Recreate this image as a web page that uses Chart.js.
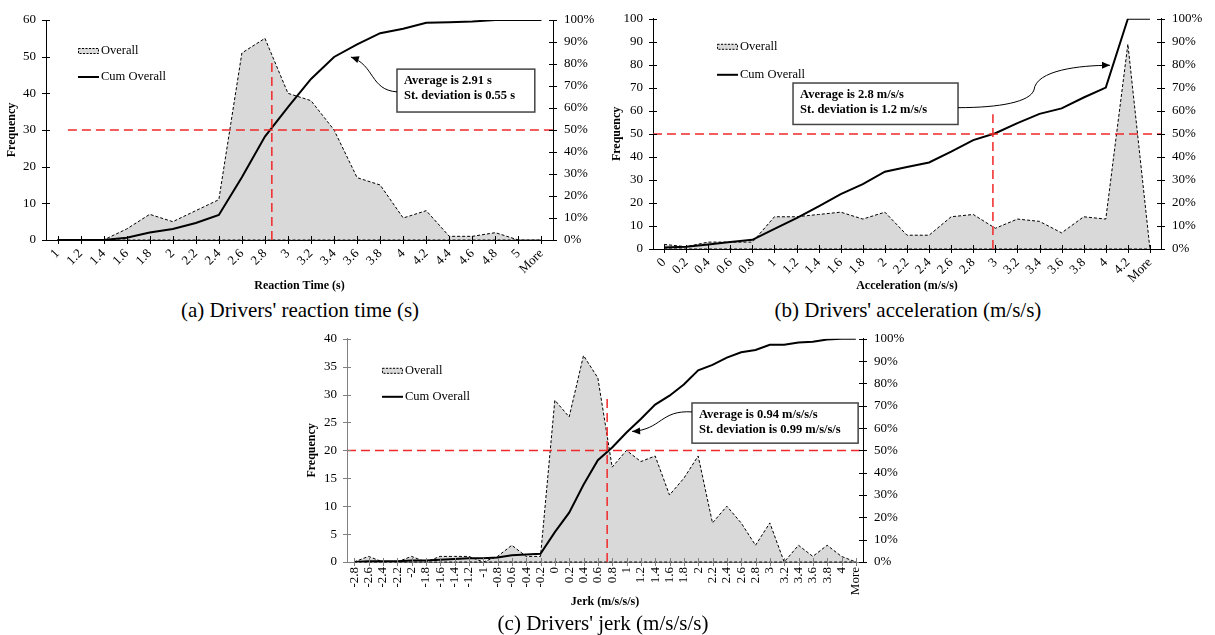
<!DOCTYPE html>
<html>
<head>
<meta charset="utf-8">
<script src="https://cdn.jsdelivr.net/npm/chart.js@4.4.1/dist/chart.umd.min.js"></script>
<style>
  body { margin: 0; background: #fff; width: 1215px; height: 635px; position: relative; overflow: hidden;
         font-family: "Liberation Serif", "Times New Roman", serif; }
  .box { position: absolute; }
  .cap { position: absolute; width: 400px; text-align: center; font-size: 21px; line-height: 24px; white-space: nowrap; }
</style>
</head>
<body>
<div class="box" style="left:0;top:0;width:605px;height:297px"><canvas id="rtChart"></canvas></div>
<div class="cap" style="left:100px;top:298px">(a) Drivers' reaction time (s)</div>

<div class="box" style="left:605px;top:0;width:610px;height:297px"><canvas id="accChart"></canvas></div>
<div class="cap" style="left:708px;top:298px">(b) Drivers' acceleration (m/s/s)</div>

<div class="box" style="left:300px;top:320px;width:620px;height:293px"><canvas id="jerkChart"></canvas></div>
<div class="cap" style="left:403px;top:611px">(c) Drivers' jerk (m/s/s/s)</div>

<script>
// (a) reaction time
const rtLabels = ['1', '1.2', '1.4', '1.6', '1.8', '2', '2.2', '2.4', '2.6', '2.8', '3', '3.2', '3.4', '3.6', '3.8', '4', '4.2', '4.4', '4.6', '4.8', '5', 'More'];
const rtFreq = [0, 0, 0, 3, 7, 5, 8, 11, 51, 55, 40, 38, 30, 17, 15, 6, 8, 1, 1, 2, 0, 0];
const rtCum = [0, 0, 0, 1.0, 3.4, 5.0, 7.7, 11.4, 28.5, 47.0, 60.4, 73.2, 83.2, 88.9, 94.0, 96.0, 98.7, 99.0, 99.3, 100, 100, 100];

// (b) acceleration
const accLabels = ['0', '0.2', '0.4', '0.6', '0.8', '1', '1.2', '1.4', '1.6', '1.8', '2', '2.2', '2.4', '2.6', '2.8', '3', '3.2', '3.4', '3.6', '3.8', '4', '4.2', 'More'];
const accFreq = [2, 1, 3, 3, 3, 14, 14, 15, 16, 13, 16, 6, 6, 14, 15, 9, 13, 12, 7, 14, 13, 89, 0];
const accCum = [0.7, 1.0, 2.0, 3.0, 4.0, 8.7, 13.4, 18.5, 23.8, 28.2, 33.6, 35.6, 37.6, 42.3, 47.3, 50.3, 54.7, 58.7, 61.1, 65.8, 70.1, 100, 100];

// (c) jerk
const jerkLabels = ['-2.8', '-2.6', '-2.4', '-2.2', '-2', '-1.8', '-1.6', '-1.4', '-1.2', '-1', '-0.8', '-0.6', '-0.4', '-0.2', '0', '0.2', '0.4', '0.6', '0.8', '1', '1.2', '1.4', '1.6', '1.8', '2', '2.2', '2.4', '2.6', '2.8', '3', '3.2', '3.4', '3.6', '3.8', '4', 'More'];
const jerkFreq = [0, 1, 0, 0, 1, 0, 1, 1, 1, 0, 1, 3, 1, 1, 29, 26, 37, 33, 17, 20, 18, 19, 12, 15, 19, 7, 10, 7, 3, 7, 0, 3, 1, 3, 1, 0];
const jerkCum = [0, 0.3, 0.3, 0.3, 0.7, 0.7, 1.0, 1.3, 1.7, 1.7, 2.0, 3.0, 3.4, 3.7, 13.4, 22.1, 34.6, 45.6, 51.3, 58.0, 64.1, 70.5, 74.5, 79.5, 85.9, 88.3, 91.6, 94.0, 95.0, 97.3, 97.3, 98.3, 98.7, 99.7, 100, 100];

const FONT = '"Liberation Serif", "Times New Roman", serif';
Chart.defaults.font.family = FONT;
Chart.defaults.font.size = 13;
Chart.defaults.color = '#000';

// red reference lines, cross ticks, legend, stats box with arrow
const overlay = {
  id: 'overlay',
  afterDatasetsDraw(chart, args, o) {
    const { ctx, chartArea: a } = chart;
    const X = i => chart.scales.x.getPixelForValue(i);
    const Y = v => chart.scales.y.getPixelForValue(v);
    ctx.save();
    // dashed bottom edge of the area
    ctx.strokeStyle = '#000';
    ctx.lineWidth = 1;
    ctx.setLineDash([3, 2]);
    ctx.beginPath();
    ctx.moveTo(X(0), Y(0));
    ctx.lineTo(X(chart.data.labels.length - 1), Y(0));
    ctx.stroke();
    // 50% and mean lines
    ctx.strokeStyle = 'rgb(240,40,40)';
    ctx.lineWidth = 1.5;
    ctx.setLineDash([9, 5]);
    ctx.beginPath();
    ctx.moveTo(o.hFrom == null ? a.left : X(o.hFrom), Y(o.hValue));
    ctx.lineTo(a.right, Y(o.hValue));
    ctx.moveTo(X(o.vIndex), Y(0));
    ctx.lineTo(X(o.vIndex), Y(o.vTop));
    ctx.stroke();
    ctx.restore();
  },
  afterDraw(chart, args, o) {
    const { ctx, chartArea: a } = chart;
    const X = i => chart.scales.x.getPixelForValue(i);
    const Y = v => chart.scales.y.getPixelForValue(v);
    const line = (x1, y1, x2, y2) => { ctx.beginPath(); ctx.moveTo(x1, y1); ctx.lineTo(x2, y2); ctx.stroke(); };
    ctx.save();
    ctx.setLineDash([]);
    ctx.lineWidth = 1;

    // cross tick marks
    ctx.strokeStyle = o.axisColor;
    chart.data.labels.forEach((l, i) => {
      const px = Math.round(X(i)) + 0.5;
      line(px, a.bottom - 4, px, a.bottom + 4);
    });
    chart.scales.y.ticks.forEach(t => {
      const py = Math.round(Y(t.value)) + 0.5;
      line(a.left - 4, py, a.left + 4, py);
    });
    ctx.strokeStyle = '#000';
    chart.scales.y1.ticks.forEach(t => {
      const py = Math.round(chart.scales.y1.getPixelForValue(t.value)) + 0.5;
      line(a.right - 4, py, a.right + 4, py);
    });

    // legend
    const lx = a.left + o.legend[0], ly1 = a.top + o.legend[1], ly2 = a.top + o.legend[2];
    ctx.fillStyle = '#d9d9d9';
    ctx.fillRect(lx, ly1 - 3, 21, 6);
    ctx.setLineDash([2, 1.5]);
    ctx.strokeStyle = '#000';
    ctx.strokeRect(lx + 0.5, ly1 - 2.5, 20, 5);
    ctx.setLineDash([]);
    ctx.lineWidth = 2;
    line(lx, ly2, lx + 21, ly2);
    ctx.font = '12.5px ' + FONT;
    ctx.fillStyle = '#000';
    ctx.textBaseline = 'middle';
    ctx.fillText(chart.data.datasets[1].label, lx + 23, ly1);
    ctx.fillText(chart.data.datasets[0].label, lx + 23, ly2);

    // stats box
    const b = o.box;
    const bx1 = X(b[0]), bx2 = X(b[1]), by1 = Y(b[2]), by2 = Y(b[3]);
    ctx.fillStyle = '#fff';
    ctx.fillRect(bx1, by1, bx2 - bx1, by2 - by1);
    ctx.strokeStyle = '#444';
    ctx.lineWidth = 1.5;
    ctx.strokeRect(bx1, by1, bx2 - bx1, by2 - by1);
    ctx.font = 'bold 12.5px ' + FONT;
    ctx.fillStyle = '#000';
    o.text.forEach((t, k) => ctx.fillText(t, bx1 + 7, by1 + 12 + k * 15));

    // curved arrow
    const p = o.arrow.map(q => [X(q[0]), Y(q[1])]);
    ctx.strokeStyle = '#000';
    ctx.lineWidth = 1;
    ctx.beginPath();
    ctx.moveTo(p[0][0], p[0][1]);
    for (let k = 1; k + 2 < p.length; k += 3) {
      ctx.bezierCurveTo(p[k][0], p[k][1], p[k + 1][0], p[k + 1][1], p[k + 2][0], p[k + 2][1]);
    }
    ctx.stroke();
    const e = p[p.length - 1], c = p[p.length - 2];
    const ang = Math.atan2(e[1] - c[1], e[0] - c[0]);
    ctx.beginPath();
    ctx.moveTo(e[0], e[1]);
    ctx.lineTo(e[0] - 8 * Math.cos(ang) + 3.5 * Math.sin(ang), e[1] - 8 * Math.sin(ang) - 3.5 * Math.cos(ang));
    ctx.lineTo(e[0] - 8 * Math.cos(ang) - 3.5 * Math.sin(ang), e[1] - 8 * Math.sin(ang) + 3.5 * Math.cos(ang));
    ctx.closePath();
    ctx.fill();
    ctx.restore();
  }
};

function makeChart(id, labels, freq, cum, cfg) {
  return new Chart(document.getElementById(id), {
    type: 'line',
    data: {
      labels: labels,
      datasets: [
        {
          label: 'Cum Overall',
          data: cum,
          yAxisID: 'y1',
          borderColor: '#000',
          borderWidth: 2,
          pointRadius: 0,
          tension: 0,
          fill: false
        },
        {
          label: 'Overall',
          data: freq,
          yAxisID: 'y',
          borderColor: '#000',
          borderWidth: 1,
          borderDash: [3, 2],
          backgroundColor: '#d9d9d9',
          fill: 'origin',
          pointRadius: 0,
          tension: 0
        }
      ]
    },
    options: {
      responsive: true,
      maintainAspectRatio: false,
      animation: false,
      layout: { padding: { top: cfg.top, left: 0, right: 0, bottom: 0 } },
      plugins: {
        legend: { display: false },
        tooltip: { enabled: false },
        overlay: cfg.overlay
      },
      scales: {
        x: {
          offset: true,
          grid: { display: false, drawTicks: false },
          border: { color: cfg.overlay.axisColor, width: 1 },
          ticks: { autoSkip: false, minRotation: cfg.rot, maxRotation: cfg.rot, padding: cfg.xPad },
          title: { display: true, text: cfg.xTitle, font: { size: 12, weight: 'bold' }, padding: { top: 2, bottom: 4 } },
          afterFit: s => { s.height = cfg.xH; }
        },
        y: {
          position: 'left',
          min: 0,
          max: cfg.yMax,
          grid: { display: false, drawTicks: false },
          border: { color: cfg.overlay.axisColor, width: 1 },
          ticks: { stepSize: cfg.yStep, padding: 10 },
          title: { display: true, text: 'Frequency', font: { size: 12, weight: 'bold' }, padding: { top: 5, bottom: 0 } },
          afterFit: s => { s.width = cfg.yW; }
        },
        y1: {
          position: 'right',
          min: 0,
          max: 100,
          grid: { display: false, drawTicks: false },
          border: { color: '#000', width: 1 },
          ticks: { stepSize: 10, padding: 11, callback: v => v + '%' },
          afterFit: s => { s.width = cfg.y1W; }
        }
      }
    },
    plugins: [overlay]
  });
}

makeChart('rtChart', rtLabels, rtFreq, rtCum, {
  top: 20, yW: 46, y1W: 52, xH: 57, rot: 45, xPad: 6, yMax: 60, yStep: 10,
  xTitle: 'Reaction Time (s)',
  overlay: {
    axisColor: '#000',
    hValue: 30, hFrom: 0.45, vIndex: 9.3, vTop: 48.4,
    legend: [32, 31, 57],
    box: [14.73, 20.71, 46.6, 34.9],
    text: ['Average is 2.91 s', 'St. deviation is 0.55 s'],
    arrow: [[14.73, 40.4], [13.56, 40.9], [13.77, 47.7], [12.73, 49.9]]
  }
});

makeChart('accChart', accLabels, accFreq, accCum, {
  top: 16, yW: 48, y1W: 54, xH: 48, rot: 45, xPad: 6, yMax: 100, yStep: 10,
  xTitle: 'Acceleration (m/s/s)',
  overlay: {
    axisColor: '#000',
    hValue: 50, hFrom: null, vIndex: 14.89, vTop: 58.5,
    legend: [64, 28, 56],
    box: [5.84, 13.31, 72.1, 54.1],
    text: ['Average is 2.8 m/s/s', 'St. deviation is 1.2 m/s/s'],
    arrow: [[13.31, 61.4], [15.21, 61.4], [16.57, 63.9], [16.75, 69.1], [16.84, 77.7], [18.83, 79.8], [20.19, 79.8]]
  }
});

makeChart('jerkChart', jerkLabels, jerkFreq, jerkCum, {
  top: 13, yW: 47, y1W: 57, xH: 51, rot: 90, xPad: 5, yMax: 40, yStep: 5,
  xTitle: 'Jerk (m/s/s/s)',
  overlay: {
    axisColor: '#808080',
    hValue: 20, hFrom: null, vIndex: 17.65, vTop: 29.3,
    legend: [35, 32, 58],
    box: [23.57, 35.16, 28.5, 21.3],
    text: ['Average is 0.94 m/s/s/s', 'St. deviation is 0.99 m/s/s/s'],
    arrow: [[23.57, 26.9], [21.34, 27.25], [21.48, 23.76], [19.39, 23.4]]
  }
});
</script>
</body>
</html>
